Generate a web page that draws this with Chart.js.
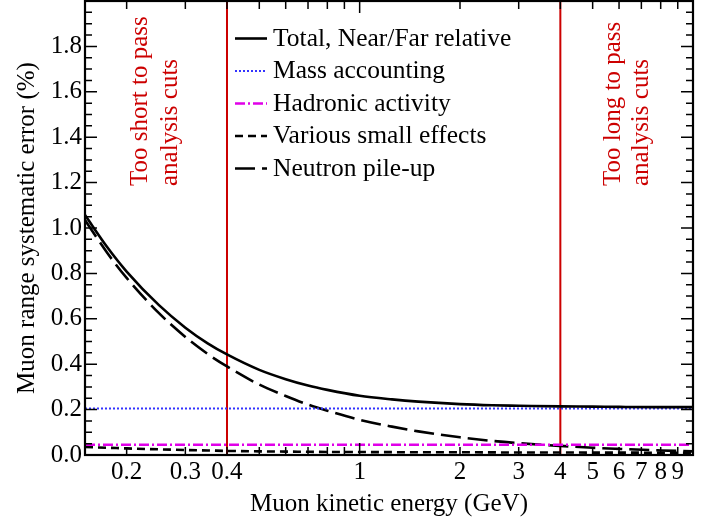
<!DOCTYPE html>
<html>
<head>
<meta charset="utf-8">
<script src="https://cdn.jsdelivr.net/npm/chart.js@4/dist/chart.umd.min.js"></script>
<style>
html,body{margin:0;padding:0;background:#fff;}
#wrap{width:717px;height:523px;position:relative;}
</style>
</head>
<body>
<div id="wrap"><canvas id="c" width="717" height="523"></canvas></div>
<script>
// ---- data ----
const energies = [0.15,0.175,0.2,0.25,0.3,0.35,0.4,0.5,0.6,0.7,0.8,1,1.25,1.5,2,2.5,3,4,5,6,8,10];
const totalNearFar = [1.057,0.915,0.808,0.660,0.561,0.492,0.443,0.375,0.334,0.306,0.287,0.261,0.245,0.235,0.224,0.219,0.217,0.214,0.213,0.212,0.211,0.211];
const neutronPileUp = [1.035,0.89,0.78,0.625,0.52,0.445,0.39,0.31,0.26,0.222,0.195,0.155,0.125,0.104,0.078,0.062,0.052,0.040,0.032,0.027,0.020,0.016];
const smallEffects = [0.035,0.032,0.029,0.025,0.022,0.020,0.018,0.016,0.015,0.014,0.0135,0.013,0.0125,0.012,0.012,0.0115,0.011,0.011,0.0105,0.0105,0.010,0.010];
const flatEnergies = [0.15,10];
const massAccounting = [0.205,0.205];
const hadronicActivity = [0.045,0.045];
const cutEnergies = [0.4,4];
const cutTexts = [["Too short to pass","analysis cuts"],["Too long to pass","analysis cuts"]];
const xTickValues = [0.2,0.3,0.4,1,2,3,4,5,6,7,8,9];
const xTickLabels = ["0.2","0.3","0.4","1","2","3","4","5","6","7","8","9"];
const yTickValues = [0,0.2,0.4,0.6,0.8,1.0,1.2,1.4,1.6,1.8];
const yTickLabels = ["0.0","0.2","0.4","0.6","0.8","1.0","1.2","1.4","1.6","1.8"];
const xMinorTicks = [0.5,0.6,0.7,0.8,0.9];

const FONT = "'Liberation Serif','Times New Roman',serif";
const pts = (xs, ys) => xs.map((x, i) => ({x: x, y: ys[i]}));

const datasets = [
  {label:"Total, Near/Far relative", data:pts(energies,totalNearFar), borderColor:"#000", borderWidth:2.6, borderDash:[]},
  {label:"Mass accounting", data:pts(flatEnergies,massAccounting), borderColor:"#3434ff", borderWidth:2, borderDash:[2,2]},
  {label:"Hadronic activity", data:pts(flatEnergies,hadronicActivity), borderColor:"#e000e8", borderWidth:2.6, borderDash:[10,3,2,3]},
  {label:"Various small effects", data:pts(energies,smallEffects), borderColor:"#000", borderWidth:2.6, borderDash:[8,5]},
  {label:"Neutron pile-up", data:pts(energies,neutronPileUp), borderColor:"#000", borderWidth:2.6, borderDash:[20,7]},
];
cutEnergies.forEach(e => datasets.push({label:"", isCut:true, data:[{x:e,y:0},{x:e,y:2}], borderColor:"#cc0000", borderWidth:2, borderDash:[]}));
datasets.forEach(d => { d.pointRadius = 0; d.fill = false; d.cubicInterpolationMode = 'monotone'; });

const decor = {
  id: 'decor',
  afterDraw(chart) {
    const ctx = chart.ctx, a = chart.chartArea;
    const xs = chart.scales.x, ys = chart.scales.y;
    ctx.save();
    // ticks (inward, mirrored)
    ctx.strokeStyle = '#000'; ctx.lineWidth = 1.5; ctx.setLineDash([]);
    for (let i = 0; i <= 40; i++) {
      const v = i * 0.05, y = ys.getPixelForValue(v);
      const L = (i % 4 === 0) ? 12 : 7;
      ctx.beginPath(); ctx.moveTo(a.left, y); ctx.lineTo(a.left + L, y);
      ctx.moveTo(a.right, y); ctx.lineTo(a.right - L, y); ctx.stroke();
    }
    xTickValues.concat(xMinorTicks).forEach(v => {
      const x = xs.getPixelForValue(v);
      const L = (v === 1) ? 12 : 8;
      ctx.beginPath(); ctx.moveTo(x, a.bottom); ctx.lineTo(x, a.bottom - L);
      ctx.moveTo(x, a.top); ctx.lineTo(x, a.top + L); ctx.stroke();
    });
    // frame
    ctx.lineWidth = 2.2;
    ctx.strokeRect(a.left, a.top, a.right - a.left, a.bottom - a.top);
    // cut annotations
    ctx.fillStyle = '#cc0000';
    ctx.font = "25px " + FONT;
    ctx.textAlign = 'left'; ctx.textBaseline = 'alphabetic';
    cutEnergies.forEach((e, k) => {
      const x = xs.getPixelForValue(e);
      const base = (k === 0) ? [x - 80, x - 50] : [x + 60, x + 88];
      cutTexts[k].forEach((t, j) => {
        ctx.save(); ctx.translate(base[j], 186); ctx.rotate(-Math.PI / 2);
        ctx.fillText(t, 0, 0); ctx.restore();
      });
    });
    // legend
    ctx.font = "25.5px " + FONT; ctx.fillStyle = '#000';
    let ly = 38.5;
    chart.data.datasets.forEach(d => {
      if (d.isCut) return;
      ctx.strokeStyle = d.borderColor; ctx.lineWidth = d.borderWidth;
      ctx.setLineDash(d.borderDash || []);
      ctx.beginPath(); ctx.moveTo(235, ly); ctx.lineTo(267, ly); ctx.stroke();
      ctx.setLineDash([]);
      ctx.fillText(d.label, 273, ly + 7);
      ly += 32.5;
    });
    ctx.restore();
  }
};

new Chart(document.getElementById('c'), {
  type: 'line',
  data: { datasets: datasets },
  options: {
    responsive: false, animation: false,
    layout: { padding: { top: 1, right: 24, left: 0, bottom: 0 } },
    plugins: { legend: { display: false }, tooltip: { enabled: false } },
    scales: {
      x: {
        type: 'logarithmic', min: 0.15, max: 10,
        grid: { display: false, drawTicks: false }, border: { display: false },
        afterBuildTicks: s => { s.ticks = xTickValues.map(v => ({value: v})); },
        afterFit: s => { s.height = 68; s.paddingLeft = 0; s.paddingRight = 0; },
        ticks: { autoSkip: false, maxRotation: 0, padding: 2, color: '#000',
          font: { family: FONT, size: 25, lineHeight: 1.2 },
          callback: (v, i) => xTickLabels[i] },
        title: { display: true, text: 'Muon kinetic energy (GeV)', color: '#000',
          font: { family: FONT, size: 25, lineHeight: 1 }, padding: { top: 0, bottom: 6 } }
      },
      y: {
        type: 'linear', min: 0, max: 2.0,
        grid: { display: false, drawTicks: false }, border: { display: false },
        afterBuildTicks: s => { s.ticks = yTickValues.map(v => ({value: v})); },
        afterFit: s => { s.width = 85; s.paddingTop = 0; s.paddingBottom = 0; },
        ticks: { autoSkip: false, padding: 3, color: '#000',
          font: { family: FONT, size: 25, lineHeight: 1.2 },
          callback: (v, i) => yTickLabels[i] },
        title: { display: true, text: 'Muon range systematic error (%)', color: '#000',
          font: { family: FONT, size: 25, lineHeight: 1 }, padding: { top: 15, bottom: 0 } }
      }
    }
  },
  plugins: [decor]
});
</script>
</body>
</html>
